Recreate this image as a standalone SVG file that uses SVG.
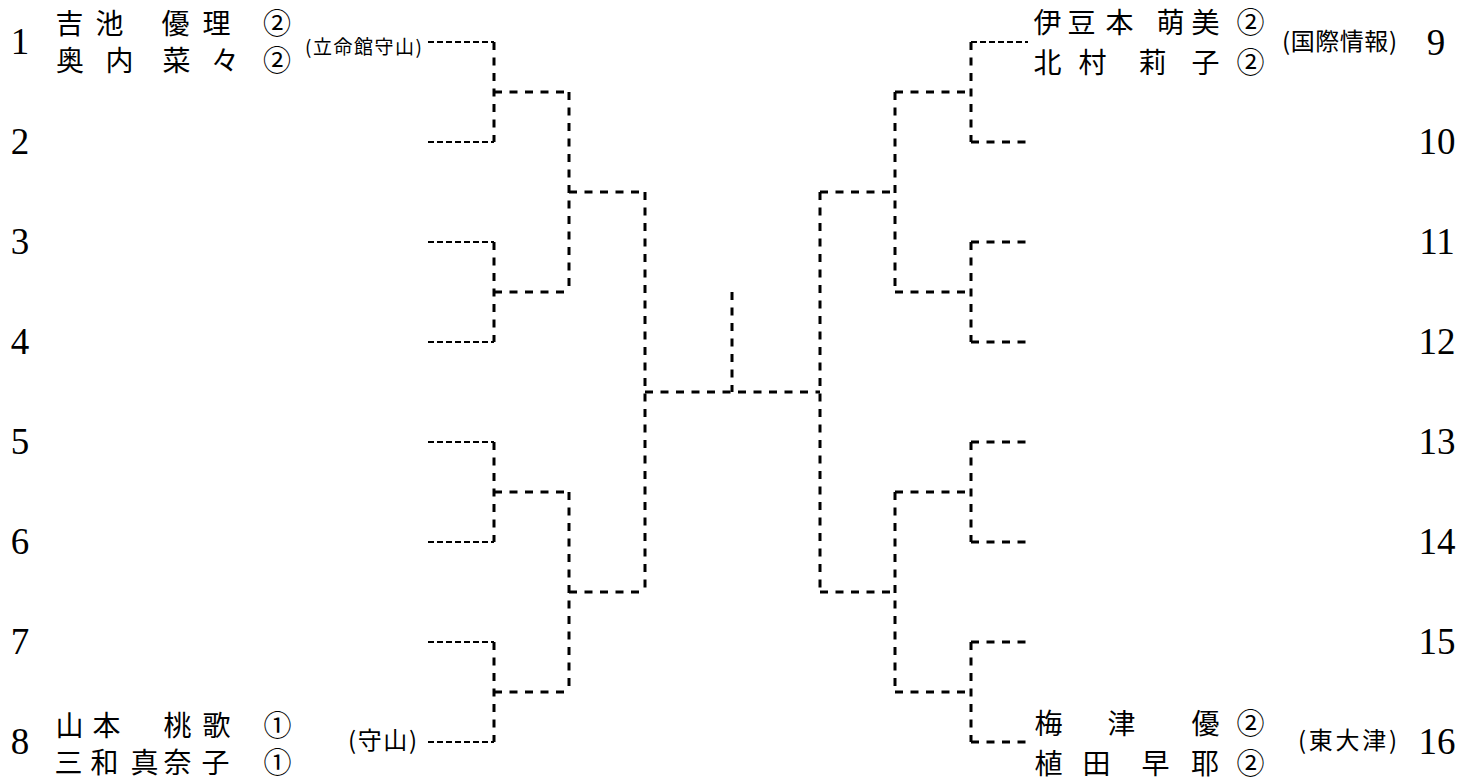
<svg xmlns="http://www.w3.org/2000/svg" width="1475" height="781" viewBox="0 0 1475 781">
<style>
.num{font-family:"Liberation Serif","DejaVu Serif",serif;font-size:37px;fill:#000;text-anchor:middle}
.nm{font-family:"Noto Sans CJK JP","Noto Sans CJK SC",sans-serif;font-size:28px;fill:#000;text-anchor:middle}
.sc{font-family:"Noto Sans CJK JP","Noto Sans CJK SC",sans-serif;font-size:24px;fill:#000}
.sc2{font-family:"Noto Sans CJK JP","Noto Sans CJK SC",sans-serif;font-size:19px;fill:#000}
.t{stroke:#000;stroke-width:2;stroke-dasharray:6 3;fill:none}
.b{stroke:#000;stroke-width:3;stroke-dasharray:8 7.5;fill:none}
</style>
<rect width="1475" height="781" fill="#fff"/>
<g id="numbers-left">
<text class="num" x="20" y="54">1</text>
<text class="num" x="20" y="154">2</text>
<text class="num" x="20" y="254">3</text>
<text class="num" x="20" y="354">4</text>
<text class="num" x="20" y="454">5</text>
<text class="num" x="20" y="554">6</text>
<text class="num" x="20" y="654">7</text>
<text class="num" x="20" y="754">8</text>
</g>
<g id="numbers-right">
<text class="num" x="1436" y="55">9</text>
<text class="num" x="1437" y="154">10</text>
<text class="num" x="1437" y="254">11</text>
<text class="num" x="1437" y="354">12</text>
<text class="num" x="1437" y="454">13</text>
<text class="num" x="1437" y="554">14</text>
<text class="num" x="1437" y="654">15</text>
<text class="num" x="1437" y="754">16</text>
</g>
<g id="entry-1">
<text class="nm" x="69.5 109.5 175.5 216.5 277" y="34">吉池優理②</text>
<text class="nm" x="70 119.5 176.5 225 277" y="71">奥内菜々②</text>
<text class="sc2" x="305" y="54" textLength="117" lengthAdjust="spacing">(立命館守山)</text>
</g>
<g id="entry-8">
<text class="nm" x="69.5 106.5 177.5 216.5 277.5" y="736">山本桃歌①</text>
<text class="nm" x="68.5 104.5 144.5 177.5 215.5 277.5" y="773">三和真奈子①</text>
<text class="sc" x="348" y="749" textLength="69" lengthAdjust="spacing">(守山)</text>
</g>
<g id="entry-9">
<text class="nm" x="1047.5 1081.5 1119.5 1170.5 1205.5 1250.5" y="33">伊豆本萌美②</text>
<text class="nm" x="1047.5 1092.5 1152.5 1205.5 1250.5" y="73">北村莉子②</text>
<text class="sc" x="1282" y="50" textLength="115" lengthAdjust="spacing">(国際情報)</text>
</g>
<g id="entry-16">
<text class="nm" x="1048.5 1121.5 1205.5 1250.5" y="734">梅津優②</text>
<text class="nm" x="1048.5 1096.5 1155.5 1205 1250.5" y="774">植田早耶②</text>
<text class="sc" x="1298" y="749" textLength="99" lengthAdjust="spacing">(東大津)</text>
</g>
<g id="connectors">
<path class="t" d="M428 42H494M428 142H494M428 242H494M428 342H494M428 442H494M428 542H494M428 642H494M428 742H494"/>
<path class="b" d="M494 42V142M494 242V342M494 442V542M494 642V742"/>
<path class="b" d="M494 92H569M494 292H569M494 492H569M494 692H569"/>
<path class="b" d="M569 92V292M569 492V692"/>
<path class="b" d="M569 192H645M569 592H645"/>
<path class="b" d="M645 192V592"/>
<path class="b" d="M645 392H820"/>
<path class="b" d="M732 292V392"/>
<path class="b" d="M820 192V592"/>
<path class="b" d="M820 192H895M820 592H895"/>
<path class="b" d="M895 92V292M895 492V692"/>
<path class="b" d="M895 92H971M895 292H971M895 492H971M895 692H971"/>
<path class="b" d="M971 42V142M971 242V342M971 442V542M971 642V742"/>
<path class="t" d="M971 42H1028"/>
<path class="b" d="M971 142H1028M971 242H1028M971 342H1028M971 442H1028M971 542H1028M971 642H1028M971 742H1028"/>
</g>
</svg>
